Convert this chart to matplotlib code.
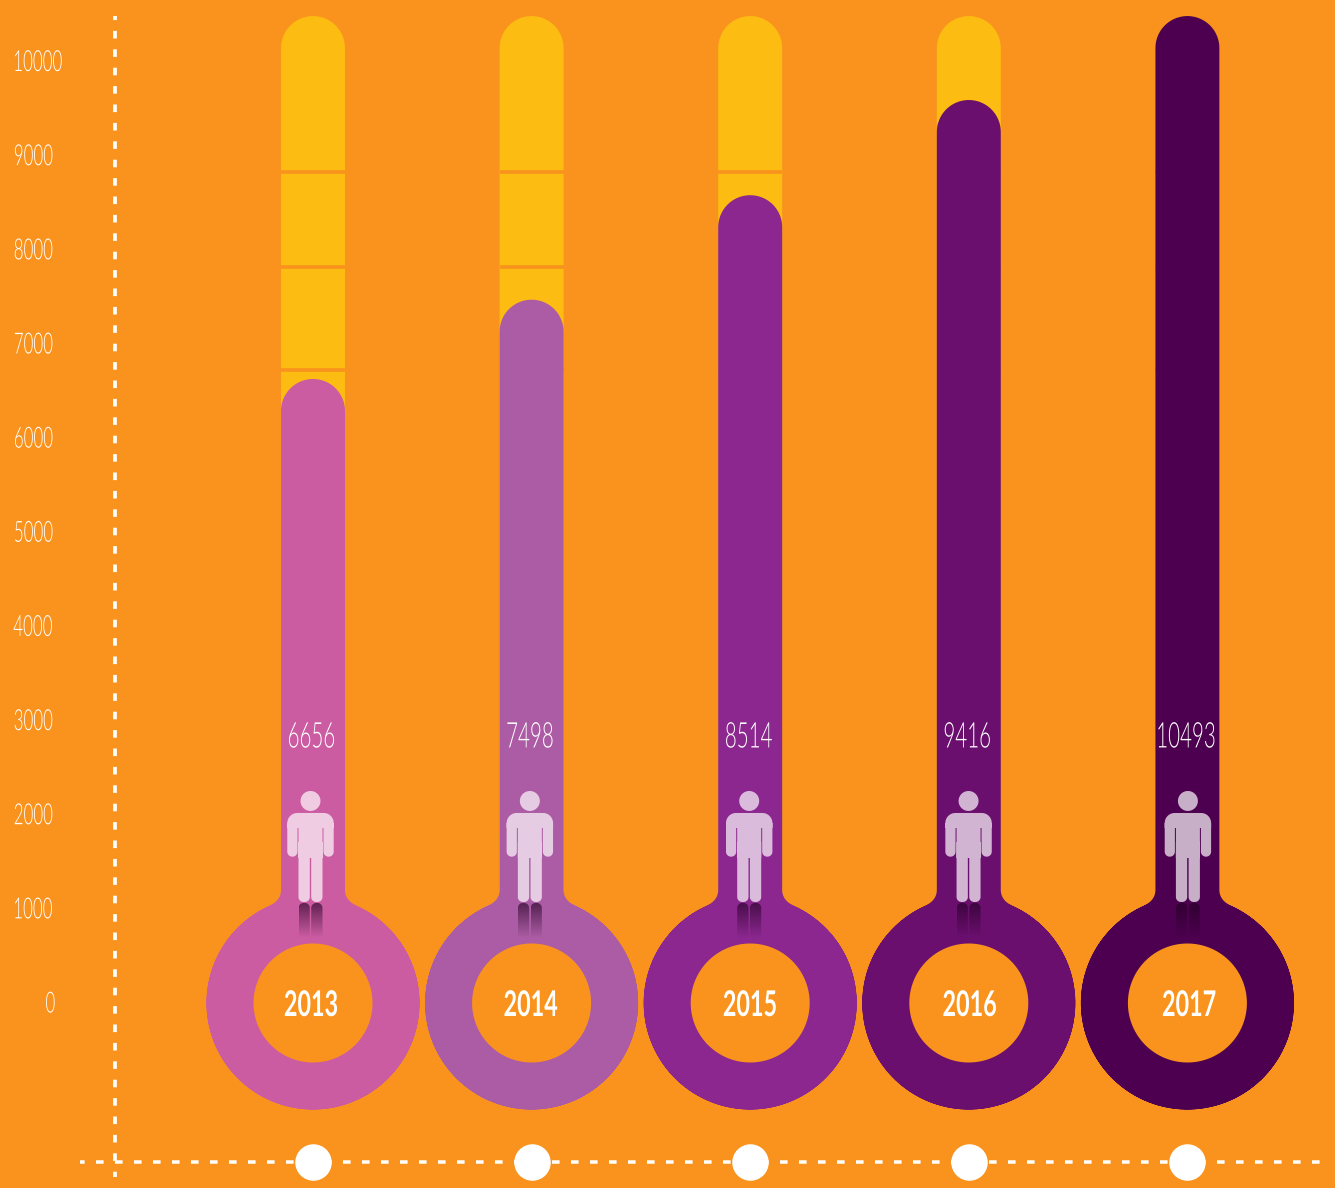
import numpy as np
import matplotlib
matplotlib.use('Agg')
import matplotlib.pyplot as plt  # noqa
from matplotlib.patches import PathPatch
from matplotlib.path import Path
from matplotlib.patheffects import AbstractPathEffect
from matplotlib.transforms import Affine2D

years = ['2013', '2014', '2015', '2016', '2017']
people = [6656, 7498, 8514, 9416, 10493]
# heights as drawn, they don't quite follow the printed numbers
drawn_tops = [6628, 7470, 8580, 9591, 10483]
track_top = 10483
track_gaps = [8826, 7822, 6723]
ticks = list(range(0, 11000, 1000))
colors = ['#CC5CA2', '#AC5CA4', '#8B278F', '#6B0F6F', '#4D004F']

ORANGE = '#F9931D'
YELLOW = '#FDBC11'
W, H = 1335, 1188
X_SCALE = 218.6   # px per column
Y_SCALE = 0.09415  # px per unit
X0, Y0 = 313, 1003  # px of first column, value 0
STEM = 32
R_OUT = 106.5
R_IN = 59.5
PX = 72 / 100  # points per px


class Squeeze(AbstractPathEffect):
    ''' Narrow the glyphs of a text, nothing condensed is installed. '''
    def __init__(self, sx, anchor='center', shift=0, lift=0):
        super().__init__()
        self.sx = sx
        self.anchor = anchor
        self.shift = shift
        self.lift = lift

    def draw_path(self, renderer, gc, tpath, affine, rgbFace=None):
        box = tpath.get_extents()
        a = box.x0 if self.anchor == 'left' else (box.x0 + box.x1) / 2
        t = Affine2D().translate(-a, 0).scale(self.sx, 1).translate(a, 0)
        t = t + affine + Affine2D().translate(self.shift, self.lift)
        renderer.draw_path(gc, tpath, t, rgbFace)


def to_data(i, v, pts):
    # px offsets round a data position -> data coordinates
    pts = np.asarray(pts, dtype=float)
    return np.column_stack([i + pts[:, 0] / X_SCALE, v - pts[:, 1] / Y_SCALE])


def arc(cx, cy, r, a0, a1, n=40):
    a = np.radians(np.linspace(a0, a1, n))
    return np.column_stack([cx + r * np.cos(a), cy + r * np.sin(a)])


def rrect(x0, y0, x1, y1, r_top, r_bot):
    # y grows downward, same as the picture
    return np.vstack([
        arc(x0 + r_top, y0 + r_top, r_top, 180, 270, 12),
        arc(x1 - r_top, y0 + r_top, r_top, 270, 360, 12),
        arc(x1 - r_bot, y1 - r_bot, r_bot, 0, 90, 12),
        arc(x0 + r_bot, y1 - r_bot, r_bot, 90, 180, 12),
    ])


def compound(parts):
    verts, codes = [], []
    for p in parts:
        verts.append(np.vstack([p, p[0]]))
        codes += [Path.MOVETO] + [Path.LINETO] * (len(p) - 1) + [Path.CLOSEPOLY]
    return Path(np.vstack(verts), codes)


def add_shape(ax, i, v, parts, **kw):
    path = compound([to_data(i, v, p) for p in parts])
    patch = PathPatch(path, lw=0, **kw)
    ax.add_patch(patch)
    return patch


def bezier(p0, p1, p2, n=12):
    t = np.linspace(0, 1, n)[:, None]
    return (1 - t)**2 * np.array(p0) + 2 * t * (1 - t) * np.array(p1) + t**2 * np.array(p2)


def thermometer(top_px):
    # outline relative to ring centre, top_px is negative
    a = np.degrees(np.arctan2(-97.4, 43))
    return np.vstack([
        arc(0, top_px + STEM, STEM, 180, 360),
        bezier((STEM, -113), (STEM, -103), (43, -97.5)),
        arc(0, 0, R_OUT, a, 360 + 180 - a, 240),
        bezier((-43, -97.5), (-STEM, -103), (-STEM, -113)),
    ])


def draw_person(ax, i, v, color_shadow):
    parts = [
        rrect(-23.2, -89, 23.2, -74, 10, 0),
        rrect(-23.2, -79, -13, -45.3, 0, 5),
        rrect(13, -79, 23.2, -45.3, 0, 5),
        rrect(-12, -85, 12, -44, 0, 0),
        rrect(-12, -60, -0.7, 0, 0, 5),
        rrect(0.7, -60, 12, 0, 0, 5),
        arc(0, -101, 10, 0, 360),
    ]
    add_shape(ax, i, v, parts, facecolor='white', alpha=0.69, zorder=6)
    # fading reflection of both legs
    fade = np.zeros((64, 2, 4))
    fade[..., :3] = color_shadow
    fade[..., 3] = np.linspace(0.62, 0, 64)[:, None]
    for x0, x1 in [(-12, -0.7), (0.7, 12)]:
        left, bottom = to_data(i, v, [(x0, 36)])[0]
        right, top = to_data(i, v, [(x1, 1)])[0]
        im = ax.imshow(fade, extent=(left, right, bottom, top), aspect='auto',
                       origin='upper', zorder=5, interpolation='bilinear')
        clip = add_shape(ax, i, v, [rrect(x0, 1, x1, 36, 5, 0)],
                         facecolor='none', zorder=0)
        im.set_clip_path(clip)


fig = plt.figure(figsize=(W / 100, H / 100), dpi=100, facecolor=ORANGE)
ax = fig.add_axes([0, 0, 1, 1], facecolor=ORANGE)
font = 'Lato'

for i, (year, n, top, color) in enumerate(zip(years, people, drawn_tops, colors)):
    add_shape(ax, i, 0, [rrect(-STEM, -track_top * Y_SCALE, STEM, -100, STEM, 0)],
              facecolor=YELLOW, zorder=1)
    ax.hlines(track_gaps, i - STEM / X_SCALE, i + STEM / X_SCALE, color=ORANGE,
              lw=3.6 * PX, zorder=2)
    add_shape(ax, i, 0, [thermometer(-top * Y_SCALE)], facecolor=color, zorder=3)
    add_shape(ax, i, 0, [arc(0, 0, R_IN, 0, 360, 120)], facecolor=ORANGE, zorder=4)
    draw_person(ax, i + (-2.5 + 0.75 * i) / X_SCALE, 1073, (0.13, 0, 0.13))
    ax.text(i - 1.7 / X_SCALE, 2847, str(n), color='white', fontsize=25.5,
            family=font, weight=300, ha='center', va='center', zorder=7,
            path_effects=[Squeeze(0.58, lift=-2.5)])
    ax.text(i + (-2 + 0.9 * i) / X_SCALE, 0, year, color='white', fontsize=25.5,
            family=font, weight='bold', ha='center', va='center', zorder=7,
            path_effects=[Squeeze(0.66, lift=-3)])

# dashed axes, and the year dots on the bottom one
axis_x = (114.7 - X0) / X_SCALE
axis_y = (Y0 - 1161.7) / Y_SCALE
ax.plot([axis_x, axis_x], [(Y0 - 16) / Y_SCALE, (Y0 - 1177) / Y_SCALE], color='white',
        lw=3.7 * PX, solid_capstyle='butt',
        linestyle=(3.5 / 3.7, (7.6 / 3.7, 10.8 / 3.7)), dash_capstyle='butt', zorder=2)
ax.plot([(79.5 - X0) / X_SCALE, (1320 - X0) / X_SCALE], [axis_y, axis_y], color='white',
        lw=3.5 * PX, linestyle=(3 / 3.5, (7.6 / 3.5, 11.4 / 3.5)),
        dash_capstyle='butt', zorder=2)
ax.plot(range(len(years)), [axis_y] * len(years), ls='none', marker='o',
        ms=36.5 * PX, mfc='white', mec='none', zorder=8, snap=False)

ax.set_xlim(-X0 / X_SCALE, (W - X0) / X_SCALE)
ax.set_ylim((Y0 - H) / Y_SCALE, Y0 / Y_SCALE)
ax.set_xticks([])
ax.set_yticks(ticks, [str(t) for t in ticks])
ax.tick_params(axis='y', length=0, pad=-12 * PX, labelcolor='white',
               labelsize=21, labelfontfamily='Lato')
shifts = {0: 33, 1000: 0, 10000: 0}
for t, label in zip(ticks, ax.get_yticklabels()):
    label.set_ha('left')
    label.set_fontweight(300)
    label.set_path_effects([Squeeze(0.58, 'left', shifts.get(t, 1), 1)])
for s in ax.spines.values():
    s.set_visible(False)

fig.savefig('out.png', dpi=100, facecolor=ORANGE)
